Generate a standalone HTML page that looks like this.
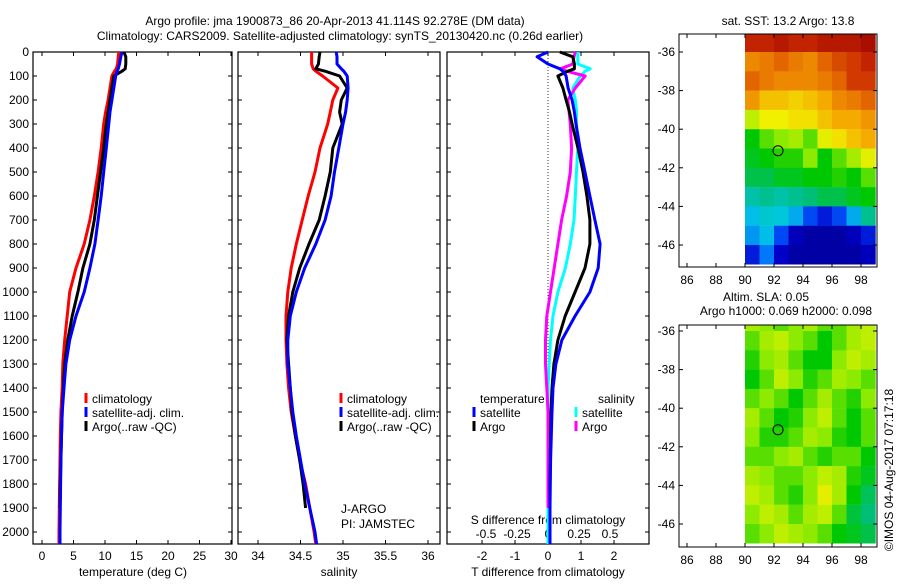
<!DOCTYPE html>
<html><head><meta charset="utf-8"><style>
body{margin:0;background:#fff;}
svg{font-family:"Liberation Sans",sans-serif;font-size:12px;}
</style></head><body>
<svg id="c" width="900" height="580" xmlns="http://www.w3.org/2000/svg">
<defs><clipPath id="cp1"><rect x="679" y="34" width="198" height="233"/></clipPath><clipPath id="cp2"><rect x="679" y="325" width="198" height="222"/></clipPath></defs>
<text x="335" y="25" text-anchor="middle">Argo profile: jma 1900873_86 20-Apr-2013 41.114S 92.278E (DM data)</text>
<text x="340" y="40" text-anchor="middle">Climatology: CARS2009. Satellite-adjusted climatology: synTS_20130420.nc (0.26d earlier)</text>
<text x="788" y="25" text-anchor="middle">sat. SST: 13.2 Argo: 13.8</text>
<text x="766" y="301" text-anchor="middle">Altim. SLA: 0.05</text>
<text x="786" y="315" text-anchor="middle">Argo h1000: 0.069 h2000: 0.098</text>
<text transform="translate(893,470) rotate(-90)" text-anchor="middle">©IMOS 04-Aug-2017 07:17:18</text>
<g id="g"></g>
</svg>
<script>
const depths=[0,20,50,70,80,100,150,200,250,300,400,500,600,700,800,900,1000,1100,1200,1300,1400,1500,1600,1700,1800,1900,2000,2050];
const tClim=[12.2,12.1,12.0,11.8,11.5,11.1,10.8,10.5,10.1,9.8,9.4,8.9,8.3,7.6,6.7,5.4,4.4,4.0,3.6,3.3,3.2,3.0,2.9,2.85,2.8,2.75,2.7,2.7];
const tSat=[12.7,12.5,12.3,12.1,11.9,11.7,11.4,11.1,10.8,10.6,10.2,9.8,9.4,8.9,8.4,7.6,6.7,5.4,4.4,3.8,3.5,3.2,3.1,3.0,2.95,2.9,2.85,2.85];
const tArgo=[13.0,13.3,13.3,13.2,12.7,11.4,11.1,10.8,10.5,10.2,9.8,9.3,8.8,8.3,7.6,6.5,5.7,4.8,4.1,3.6,3.4,3.2,3.1,3.0,2.9,2.85];
const sClim=[34.63,34.63,34.63,34.65,34.68,34.76,34.94,34.88,34.85,34.82,34.73,34.67,34.59,34.52,34.45,34.39,34.35,34.33,34.33,34.34,34.36,34.39,34.44,34.49,34.56,34.61,34.66,34.68];
const sSat=[34.92,34.93,34.93,34.98,35.01,35.05,35.06,35.05,35.03,35.0,34.95,34.9,34.86,34.79,34.68,34.55,34.45,34.38,34.35,34.35,34.38,34.41,34.45,34.5,34.55,34.61,34.67,34.69];
const sArgo=[34.73,34.72,34.71,34.68,34.79,34.96,35.05,34.98,34.96,34.99,34.88,34.85,34.79,34.72,34.6,34.49,34.41,34.36,34.34,34.36,34.38,34.4,34.44,34.49,34.53,34.56];
const dtSat=[0,-0.33,0,0.36,0.45,0.55,0.61,0.73,0.8,0.85,0.97,1.12,1.27,1.42,1.58,1.52,1.27,0.82,0.42,0.24,0.15,0.12,0.1,0.08,0.07,0.06,0.06,0.06];
const dtArgo=[0.36,0.75,0.8,0.8,0.6,0.3,0.45,0.55,0.65,0.73,0.91,1.06,1.18,1.27,1.27,1.12,0.82,0.52,0.3,0.18,0.12,0.09,0.08,0.07,0.06,0.06];
const dsSat=[0.24,0.24,0.24,0.34,0.3,0.26,0.2,0.22,0.23,0.23,0.24,0.23,0.22,0.21,0.18,0.14,0.08,0.04,0.02,0.01,0.0,0.0,0.0,0.0,0.0,0.0,0.0,0.0];
const dsArgo=[0.22,0.21,0.2,0.1,0.15,0.3,0.22,0.16,0.17,0.18,0.19,0.18,0.15,0.11,0.08,0.05,0.02,-0.01,-0.02,-0.02,-0.01,0.0,0.0,0.0,0.0,0.0];
const tTicks=[0,5,10,15,20,25,30];
const sTicks=[34,34.5,35,35.5,36];
const dtTicks=[-2,-1,0,1,2];
const dsTicks=[-0.5,-0.25,0,0.25,0.5];
const dTicks=[0,100,200,300,400,500,600,700,800,900,1000,1100,1200,1300,1400,1500,1600,1700,1800,1900,2000];
const lonTicks=[86,88,90,92,94,96,98];
const latTicks=[-36,-38,-40,-42,-44,-46];
const sstGrid=[
[0.93,0.93,0.95,0.93,0.93,0.95,0.95,0.95,0.97],
[0.8,0.82,0.85,0.82,0.8,0.85,0.88,0.9,0.93],
[0.85,0.82,0.8,0.8,0.8,0.82,0.85,0.9,0.9],
[0.78,0.72,0.72,0.7,0.72,0.75,0.8,0.82,0.85],
[0.62,0.66,0.66,0.68,0.68,0.72,0.75,0.75,0.78],
[0.5,0.55,0.58,0.6,0.55,0.65,0.68,0.72,0.75],
[0.48,0.5,0.52,0.52,0.58,0.5,0.55,0.6,0.65],
[0.45,0.45,0.48,0.48,0.5,0.5,0.52,0.5,0.55],
[0.38,0.4,0.38,0.4,0.42,0.45,0.45,0.48,0.5],
[0.32,0.35,0.34,0.3,0.2,0.15,0.2,0.3,0.4],
[0.28,0.32,0.2,0.1,0.06,0.06,0.06,0.1,0.15],
[0.15,0.25,0.12,0.06,0.06,0.06,0.06,0.06,0.1]];
const slaGrid=[
[0.6,0.58,0.55,0.58,0.6,0.55,0.55,0.6,0.62],
[0.55,0.6,0.62,0.58,0.55,0.5,0.55,0.6,0.62],
[0.52,0.58,0.6,0.55,0.5,0.5,0.58,0.62,0.6],
[0.5,0.55,0.62,0.58,0.52,0.55,0.6,0.58,0.55],
[0.55,0.58,0.55,0.5,0.55,0.6,0.55,0.52,0.58],
[0.6,0.55,0.5,0.52,0.58,0.62,0.55,0.5,0.55],
[0.58,0.52,0.52,0.55,0.6,0.58,0.52,0.5,0.55],
[0.55,0.55,0.58,0.6,0.55,0.52,0.55,0.55,0.5],
[0.6,0.58,0.55,0.55,0.58,0.62,0.6,0.52,0.48],
[0.62,0.6,0.55,0.52,0.58,0.65,0.6,0.5,0.44],
[0.58,0.62,0.6,0.55,0.6,0.62,0.55,0.46,0.42],
[0.55,0.58,0.62,0.6,0.58,0.55,0.5,0.48,0.45]];
const argoLon=92.278, argoLat=-41.114;

const NS='http://www.w3.org/2000/svg';
const G=document.getElementById('g');
function mk(t,a,p){const e=document.createElementNS(NS,t);for(const k in a)e.setAttribute(k,a[k]);(p||G).appendChild(e);return e;}
function txt(x,y,s,anchor){const e=mk('text',{x:x,y:y,'text-anchor':anchor||'middle'});e.textContent=s;return e;}
const yD=d=>52+0.24*d;
const xT=v=>42+6.3*v;
const xS=v=>258+85*(v-34);
const xDT=v=>548+33*v;
const xDS=v=>548+124*v;
const panels=[[33,232],[238,440],[447,649]];
panels.forEach((p,i)=>{
  const r=mk('rect',{x:p[0],y:52,width:p[1]-p[0],height:492,fill:'none',stroke:'#000','stroke-width':1.2});
  
  
  dTicks.forEach(d=>{mk('line',{x1:p[0],x2:p[0]+4,y1:yD(d),y2:yD(d),stroke:'#000'});mk('line',{x1:p[1]-4,x2:p[1],y1:yD(d),y2:yD(d),stroke:'#000'});});
});
dTicks.forEach(d=>{const t=txt(29,yD(d)+4,String(d),'end');});
function xticks(ticks,f,y){ticks.forEach(v=>{mk('line',{x1:f(v),x2:f(v),y1:544,y2:540,stroke:'#000'});mk('line',{x1:f(v),x2:f(v),y1:52,y2:56,stroke:'#000'});const t=txt(f(v),y,String(v));});}
xticks(tTicks,xT,560);
xticks(sTicks,xS,560);
xticks(dtTicks,xDT,560);
dsTicks.forEach(v=>{const t=txt(xDS(v),538,String(v));});
[['temperature (deg C)',133],['salinity',339],['T difference from climatology',548]].forEach(a=>{const t=txt(a[1],576,a[0]);});
const st=txt(548,524,'S difference from climatology');
mk('line',{x1:548,x2:548,y1:52,y2:544,stroke:'#000','stroke-dasharray':'1,2','stroke-width':0.8});
function line(vals,f,col,name){const pts=vals.map((v,i)=>f(v).toFixed(1)+','+yD(depths[i]).toFixed(1)).join(' ');const e=mk('polyline',{points:pts,fill:'none',stroke:col,'stroke-width':3,'stroke-linejoin':'round'});}
line(tClim,xT,'#f00','temp-climatology');line(tArgo,xT,'#000','temp-argo');line(tSat,xT,'#00f','temp-satellite');
line(sClim,xS,'#f00','sal-climatology');line(sArgo,xS,'#000','sal-argo');line(sSat,xS,'#00f','sal-satellite');
line(dsSat,xDS,'#0ff','sdiff-satellite');line(dsArgo,xDS,'#f0f','sdiff-argo');line(dtArgo,xDT,'#000','tdiff-argo');line(dtSat,xDT,'#00f','tdiff-satellite');
function leg(x,y,col,s,name){mk('line',{x1:x,x2:x,y1:y-10,y2:y,stroke:col,'stroke-width':3});const t=txt(x+6,y,s,'start');}
[[86,'#f00','climatology'],[86,'#00f','satellite-adj. clim.'],[86,'#000','Argo(..raw -QC)']].forEach((a,i)=>leg(a[0],403+i*14,a[1],a[2],'legend-entry'));
[[341,'#f00','climatology'],[341,'#00f','satellite-adj. clim.'],[341,'#000','Argo(..raw -QC)']].forEach((a,i)=>leg(a[0],403+i*14,a[1],a[2],'legend-entry'));
txt(480,403,'temperature','start');txt(598,403,'salinity','start');
leg(474,417,'#00f','satellite','legend-entry');leg(474,431,'#000','Argo','legend-entry');
leg(576,417,'#0ff','satellite','legend-entry');leg(576,431,'#f0f','Argo','legend-entry');
txt(341,513,'J-ARGO','start');txt(341,528,'PI: JAMSTEC','start');
const cstops=[[0,[0,0,130]],[0.12,[0,0,200]],[0.22,[0,90,255]],[0.33,[0,200,230]],[0.42,[0,190,120]],[0.5,[0,200,0]],[0.58,[140,235,0]],[0.66,[240,240,0]],[0.75,[245,170,0]],[0.84,[230,110,0]],[0.92,[200,40,0]],[1,[150,0,0]]];
function cmap(v){for(let i=1;i<cstops.length;i++){if(v<=cstops[i][0]){const a=cstops[i-1],b=cstops[i],t=(v-a[0])/(b[0]-a[0]);return 'rgb('+a[1].map((c,k)=>Math.round(c+(b[1][k]-c)*t)).join(',')+')';}}return 'rgb(150,0,0)';}
function map(grid,top,bottom,oy,clip,name){
  const xL=v=>745+14.5*(v-90), yL=v=>oy+52+19.3*(-36-v);
  const g=mk('g',{'clip-path':'url(#'+clip+')'});
  grid.forEach((row,ri)=>row.forEach((v,ci)=>{const e=mk('rect',{x:xL(90+ci).toFixed(1),y:yL(-35-ri).toFixed(1),width:14.7,height:19.5,fill:cmap(v)},g);}));
  mk('rect',{x:679,y:top,width:198,height:bottom-top,fill:'none',stroke:'#000'});
  lonTicks.forEach(v=>{mk('line',{x1:xL(v),x2:xL(v),y1:bottom,y2:bottom-4,stroke:'#000'});mk('line',{x1:xL(v),x2:xL(v),y1:top,y2:top+4,stroke:'#000'});const t=txt(xL(v),bottom+17,String(v));});
  latTicks.forEach(v=>{mk('line',{x1:679,x2:683,y1:yL(v),y2:yL(v),stroke:'#000'});mk('line',{x1:873,x2:877,y1:yL(v),y2:yL(v),stroke:'#000'});const t=txt(675,yL(v)+4,String(v),'end');});
  const c=mk('circle',{cx:xL(argoLon),cy:yL(argoLat),r:5,fill:'none',stroke:'#000'});
}
map(sstGrid,34,267,0,'cp1','sst-map');map(slaGrid,325,547,279,'cp2','sla-map');
</script>
</body></html>
